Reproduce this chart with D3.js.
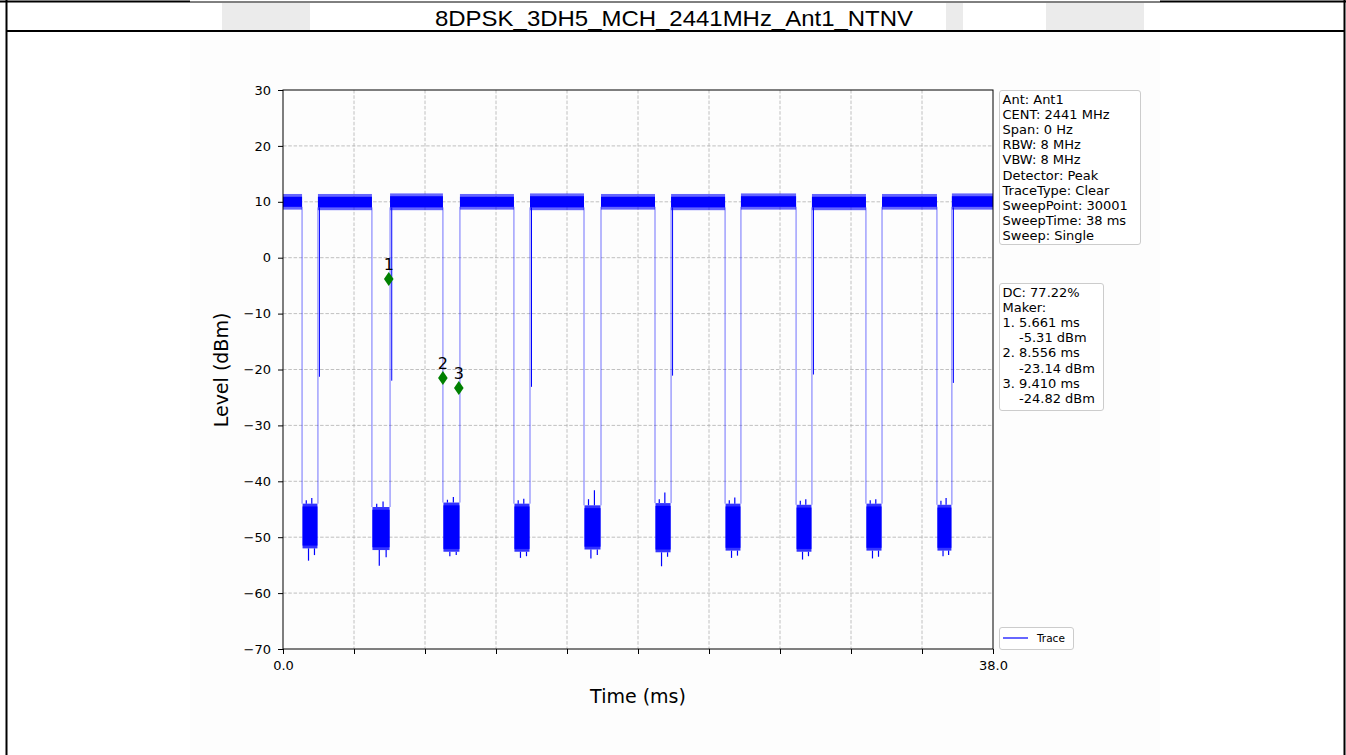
<!DOCTYPE html>
<html>
<head>
<meta charset="utf-8">
<script src="https://cdn.jsdelivr.net/npm/d3@7"></script>
<style>
  body { margin: 0; background: #fff; }
  text { font-family: "DejaVu Sans", sans-serif; }
</style>
</head>
<body>
<script>
// Chart data
var titleText = "8DPSK_3DH5_MCH_2441MHz_Ant1_NTNV";

// burst (high level) start / end times, ms
var burstStart = [0, 1.87, 5.73, 9.47, 13.22, 17.02, 20.77, 24.51, 28.31, 32.06, 35.80];
var burstEnd = [1.02, 4.76, 8.56, 12.36, 16.11, 19.91, 23.66, 27.46, 31.20, 35.00, 38.0];
var burstLow = [8.6, 8.5, 8.5, 8.6, 8.5, 8.6, 8.5, 8.6, 8.5, 8.6, 8.6];
var burstHigh = [11.4, 11.4, 11.5, 11.4, 11.5, 11.4, 11.4, 11.5, 11.4, 11.4, 11.5];

// noise floor in each gap (between burstEnd[i] and burstStart[i+1]), dBm
var gapCoreTop = [-44.0, -44.6, -43.8, -44.0, -44.3, -43.9, -44.0, -44.2, -44.0, -44.2];
var gapCoreBottom = [-52.0, -52.3, -52.6, -52.6, -52.2, -52.7, -52.4, -52.6, -52.4, -52.4];
var gapPeak = [-43.0, -43.6, -42.8, -43.1, -41.6, -42.0, -42.9, -43.2, -43.2, -43.0];
var gapPeak2 = [-43.4, -44.0, -43.3, -43.4, -43.2, -43.2, -43.4, -43.5, -43.4, -43.5];
var gapDip = [-54.2, -55.1, -53.4, -53.7, -53.8, -55.2, -53.7, -54.0, -53.8, -53.4];
var gapDip2 = [-53.2, -53.6, -53.2, -53.4, -53.2, -53.5, -53.3, -53.4, -53.5, -53.2];

// short dips right after some burst starts
var dipTime = [1.95, 5.82, 13.30, 20.85, 28.39, 35.88];
var dipLevel = [-21.3, -22.0, -23.1, -21.1, -20.9, -22.4];

// markers
var markerName = ["1", "2", "3"];
var markerTime = [5.661, 8.556, 9.410];
var markerLevel = [-3.8, -21.5, -23.3];

// axis ticks
var xTicks = [0, 3.8, 7.6, 11.4, 15.2, 19, 22.8, 26.6, 30.4, 34.2, 38];
var yTicks = [30, 20, 10, 0, -10, -20, -30, -40, -50, -60, -70];

// info boxes
var infoLines = ["Ant: Ant1", "CENT: 2441 MHz", "Span: 0 Hz", "RBW: 8 MHz", "VBW: 8 MHz",
  "Detector: Peak", "TraceType: Clear", "SweepPoint: 30001", "SweepTime: 38 ms", "Sweep: Single"];
var markerLines = ["DC: 77.22%", "Maker:", "1. 5.661 ms", "    -5.31 dBm", "2. 8.556 ms",
  "    -23.14 dBm", "3. 9.410 ms", "    -24.82 dBm"];

var svgWidth = 1346;
var svgHeight = 755;

var svg = d3.select("body")
  .append("svg")
  .attr("width", svgWidth)
  .attr("height", svgHeight);

svg.append("rect").attr("width", svgWidth).attr("height", svgHeight).attr("fill", "#fff");

// faint image background and grey header blocks
svg.append("rect").attr("x", 190).attr("y", 32).attr("width", 970).attr("height", 723).attr("fill", "#fdfdfd");
[[222, 88], [946, 17], [1046, 98]].forEach(function (b) {
  svg.append("rect").attr("x", b[0]).attr("y", 3).attr("width", b[1]).attr("height", 27).attr("fill", "#ebebeb");
});

// frame lines
svg.append("line").attr("x1", 0).attr("x2", 190).attr("y1", 1.5).attr("y2", 1.5).attr("stroke", "#000").attr("stroke-width", 2);
svg.append("line").attr("x1", 190).attr("x2", 1160).attr("y1", 2).attr("y2", 2).attr("stroke", "#000").attr("stroke-width", 1);
svg.append("line").attr("x1", 1160).attr("x2", 1346).attr("y1", 1.5).attr("y2", 1.5).attr("stroke", "#000").attr("stroke-width", 2);
svg.append("line").attr("x1", 6).attr("x2", 1345).attr("y1", 31).attr("y2", 31).attr("stroke", "#000").attr("stroke-width", 2);
svg.append("line").attr("x1", 6.5).attr("x2", 6.5).attr("y1", 0).attr("y2", svgHeight).attr("stroke", "#000").attr("stroke-width", 2);
svg.append("line").attr("x1", 1344.5).attr("x2", 1344.5).attr("y1", 0).attr("y2", svgHeight).attr("stroke", "#000").attr("stroke-width", 2);

svg.append("text")
  .attr("x", 674).attr("y", 26)
  .attr("text-anchor", "middle")
  .style("font-family", "'Liberation Sans', Arial, sans-serif")
  .style("font-size", "22px")
  .attr("textLength", 478)
  .attr("lengthAdjust", "spacingAndGlyphs")
  .text(titleText);

// scales
var x = d3.scaleLinear().domain([0, 38]).range([283, 993]);
var y = d3.scaleLinear().domain([-70, 30]).range([649, 90]);

// grid
var grid = svg.append("g").attr("stroke", "#b0b0b0").attr("stroke-width", 0.8).attr("stroke-dasharray", "3.5,1.8");
grid.selectAll(".gx").data(xTicks.slice(1, -1)).enter().append("line")
  .attr("x1", d => x(d)).attr("x2", d => x(d)).attr("y1", 90).attr("y2", 649);
grid.selectAll(".gy").data(yTicks.slice(1, -1)).enter().append("line")
  .attr("x1", 283).attr("x2", 993).attr("y1", d => y(d)).attr("y2", d => y(d));

// trace
var trace = svg.append("g");
var blue = "#0000ff";

// vertical edges (falling and rising)
for (var i = 0; i < gapPeak.length; i++) {
  trace.append("line")
    .attr("x1", x(burstEnd[i])).attr("x2", x(burstEnd[i]))
    .attr("y1", y(burstLow[i] + 0.5)).attr("y2", y(gapCoreTop[i]))
    .attr("stroke", blue).attr("stroke-opacity", 0.55).attr("stroke-width", 1);
  trace.append("line")
    .attr("x1", x(burstStart[i + 1])).attr("x2", x(burstStart[i + 1]))
    .attr("y1", y(burstLow[i + 1] + 0.5)).attr("y2", y(gapCoreTop[i]))
    .attr("stroke", blue).attr("stroke-opacity", 0.55).attr("stroke-width", 1);
}

// dips
dipTime.forEach(function (t, k) {
  trace.append("line")
    .attr("x1", x(t)).attr("x2", x(t))
    .attr("y1", y(9)).attr("y2", y(dipLevel[k]))
    .attr("stroke", blue).attr("stroke-width", 1);
});

// burst bands
burstStart.forEach(function (s, k) {
  trace.append("rect")
    .attr("x", x(s)).attr("width", x(burstEnd[k]) - x(s))
    .attr("y", y(burstHigh[k] - 0.5)).attr("height", y(burstLow[k] + 0.5) - y(burstHigh[k] - 0.5))
    .attr("fill", blue);
  trace.append("rect")
    .attr("x", x(s)).attr("width", x(burstEnd[k]) - x(s))
    .attr("y", y(burstHigh[k])).attr("height", y(burstLow[k]) - y(burstHigh[k]))
    .attr("fill", blue).attr("fill-opacity", 0.6);
});

// noise floor in gaps
gapPeak.forEach(function (p, k) {
  var g0 = x(burstEnd[k]) + 0.5;
  var g1 = x(burstStart[k + 1]) - 0.5;
  var w = g1 - g0;
  trace.append("rect")
    .attr("x", g0).attr("width", w)
    .attr("y", y(gapCoreTop[k] - 0.5)).attr("height", y(gapCoreBottom[k] + 0.5) - y(gapCoreTop[k] - 0.5))
    .attr("fill", blue);
  trace.append("rect")
    .attr("x", g0).attr("width", w)
    .attr("y", y(gapCoreTop[k])).attr("height", y(gapCoreBottom[k]) - y(gapCoreTop[k]))
    .attr("fill", blue).attr("fill-opacity", 0.8);
  trace.append("line")
    .attr("x1", g0 + w * 0.62).attr("x2", g0 + w * 0.62)
    .attr("y1", y(p)).attr("y2", y(gapCoreTop[k]))
    .attr("stroke", blue).attr("stroke-width", 1.2);
  trace.append("line")
    .attr("x1", g0 + w * 0.25).attr("x2", g0 + w * 0.25)
    .attr("y1", y(gapPeak2[k])).attr("y2", y(gapCoreTop[k]))
    .attr("stroke", blue).attr("stroke-width", 1.2);
  trace.append("line")
    .attr("x1", g0 + w * 0.4).attr("x2", g0 + w * 0.4)
    .attr("y1", y(gapCoreBottom[k])).attr("y2", y(gapDip[k]))
    .attr("stroke", blue).attr("stroke-width", 1.2);
  trace.append("line")
    .attr("x1", g0 + w * 0.8).attr("x2", g0 + w * 0.8)
    .attr("y1", y(gapCoreBottom[k])).attr("y2", y(gapDip2[k]))
    .attr("stroke", blue).attr("stroke-width", 1.2);
});

// markers
var mk = svg.append("g");
markerTime.forEach(function (t, k) {
  var cx = x(t), cy = y(markerLevel[k]);
  mk.append("path")
    .attr("d", "M" + cx + "," + (cy - 7) + "L" + (cx + 4.8) + "," + cy + "L" + cx + "," + (cy + 7) + "L" + (cx - 4.8) + "," + cy + "Z")
    .attr("fill", "green");
  mk.append("text")
    .attr("x", cx).attr("y", cy - 9)
    .attr("text-anchor", "middle")
    .style("font-size", "16px")
    .text(markerName[k]);
});

// axes
var fmt = function (d) { return d < 0 ? "\u2212" + Math.abs(d) : d; };
var yAxis = svg.append("g")
  .attr("transform", "translate(283,0)")
  .call(d3.axisLeft(y).tickValues(yTicks).tickSize(5).tickPadding(7).tickFormat(fmt));
var xAxis = svg.append("g")
  .attr("transform", "translate(0,649)")
  .call(d3.axisBottom(x).tickValues(xTicks).tickSize(5).tickPadding(7)
    .tickFormat(function (d) { return (d === 0 || d === 38) ? d.toFixed(1) : ""; }));
[xAxis, yAxis].forEach(function (a) {
  a.select(".domain").remove();
  a.selectAll("text").style("font-size", "13px").attr("fill", "#000").style("font-family", "'DejaVu Sans', sans-serif");
  a.selectAll("line").attr("stroke", "#000");
});

svg.append("rect")
  .attr("x", 283).attr("y", 90).attr("width", 710).attr("height", 559)
  .attr("fill", "none").attr("stroke", "#000").attr("stroke-width", 1);

svg.append("text")
  .attr("transform", "translate(228,370) rotate(-90)")
  .attr("text-anchor", "middle")
  .style("font-size", "19px")
  .text("Level (dBm)");

svg.append("text")
  .attr("x", 638).attr("y", 703)
  .attr("text-anchor", "middle")
  .style("font-size", "19px")
  .text("Time (ms)");

// info boxes
function infoBox(lines, bx, by, bw, bh) {
  svg.append("rect")
    .attr("x", bx).attr("y", by).attr("width", bw).attr("height", bh)
    .attr("rx", 2.5)
    .attr("fill", "#fff").attr("stroke", "#cccccc").attr("stroke-width", 1);
  svg.append("g").selectAll("text")
    .data(lines).enter().append("text")
    .attr("x", bx + 3)
    .attr("y", (d, i) => by + 13 + i * 15.2)
    .style("font-size", "13px")
    .style("white-space", "pre")
    .attr("xml:space", "preserve")
    .text(d => d);
}
infoBox(infoLines, 999.5, 90.5, 141, 154);
infoBox(markerLines, 999.5, 283.5, 104, 127);

// legend
svg.append("rect")
  .attr("x", 999.5).attr("y", 627.5).attr("width", 74).attr("height", 22)
  .attr("rx", 2.5)
  .attr("fill", "#fff").attr("stroke", "#cccccc");
svg.append("line")
  .attr("x1", 1003).attr("x2", 1028).attr("y1", 638).attr("y2", 638)
  .attr("stroke", blue).attr("stroke-width", 1.2);
svg.append("text")
  .attr("x", 1037).attr("y", 642)
  .style("font-size", "10.5px")
  .text("Trace");
</script>
</body>
</html>
